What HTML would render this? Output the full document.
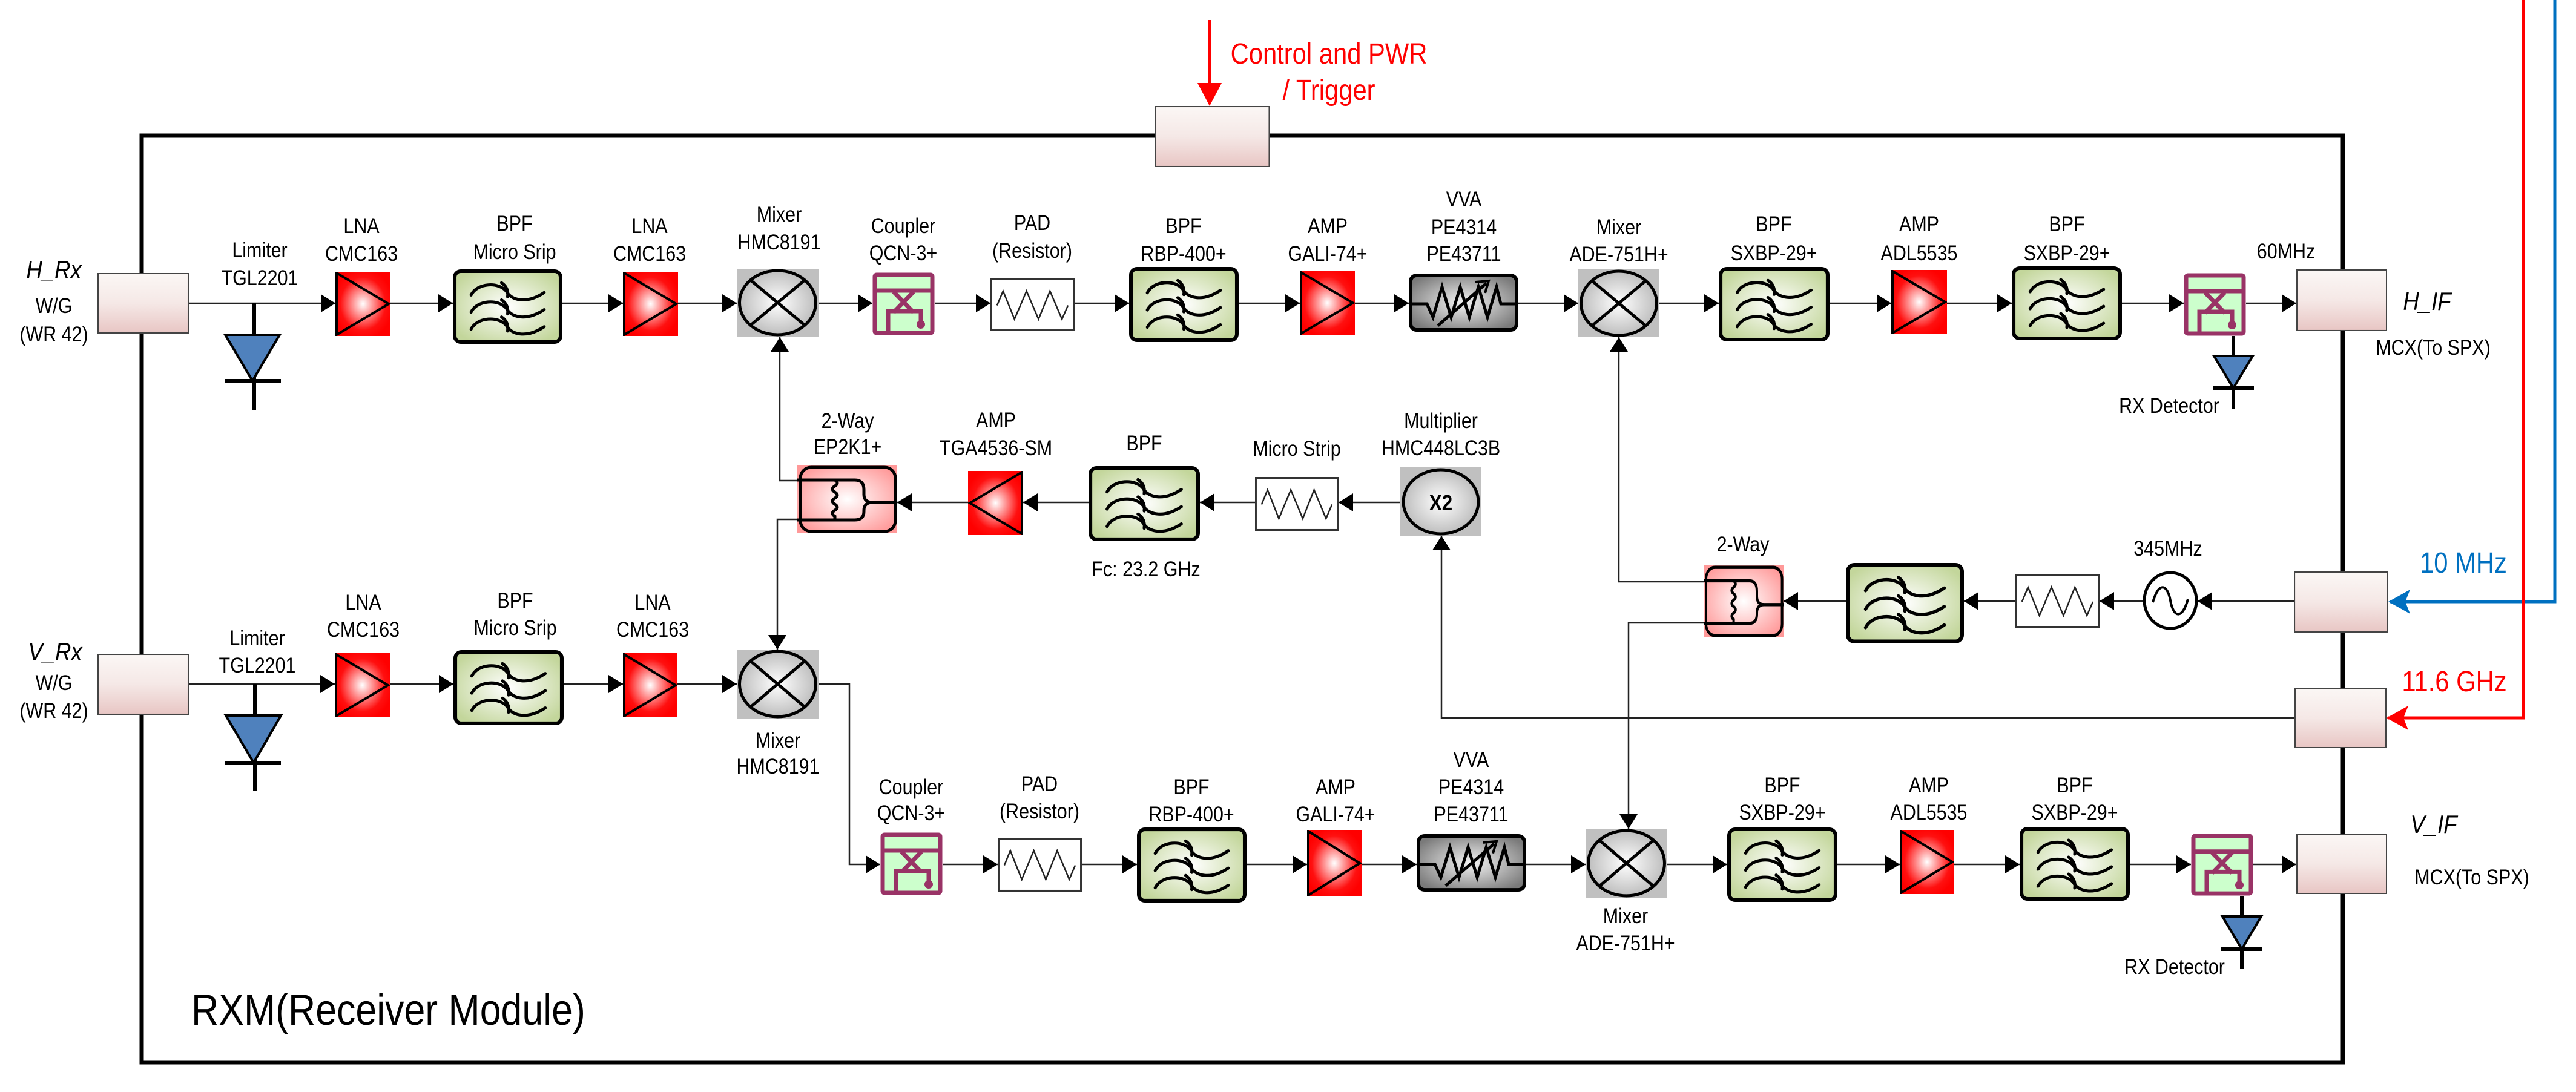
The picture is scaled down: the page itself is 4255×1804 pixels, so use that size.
<!DOCTYPE html>
<html><head><meta charset="utf-8"><style>
html,body{margin:0;padding:0;background:#fff}
svg{display:block}
text{font-family:"Liberation Sans",Arial,sans-serif;font-size:35px;text-anchor:middle;fill:#000}
.it{font-style:italic;font-size:42px}
.sm{font-size:33px}
</style></head><body>
<svg width="4255" height="1804" viewBox="0 0 4255 1804" xmlns="http://www.w3.org/2000/svg">
<defs>
<radialGradient id="rg" cx="50%" cy="50%" r="55%"><stop offset="0" stop-color="#fff"/><stop offset="0.75" stop-color="#ff1010"/><stop offset="1" stop-color="#f00"/></radialGradient>
<radialGradient id="gg" cx="50%" cy="50%" r="60%"><stop offset="0" stop-color="#fff"/><stop offset="1" stop-color="#c3d69b"/></radialGradient>
<radialGradient id="greyg" cx="50%" cy="50%" r="55%"><stop offset="0" stop-color="#fff"/><stop offset="1" stop-color="#b8b8b8"/></radialGradient>
<radialGradient id="vvag" cx="50%" cy="50%" r="60%"><stop offset="0" stop-color="#f4f4f4"/><stop offset="1" stop-color="#7a7a7a"/></radialGradient>
<radialGradient id="pinkg" cx="50%" cy="50%" r="60%"><stop offset="0" stop-color="#fff"/><stop offset="1" stop-color="#f99"/></radialGradient>
<linearGradient id="portg" x1="0" y1="0" x2="0" y2="1"><stop offset="0" stop-color="#fbf7f5"/><stop offset="0.5" stop-color="#f5e8e6"/><stop offset="1" stop-color="#e8c6c4"/></linearGradient>
<marker id="ar" viewBox="0 0 24 30" refX="24" refY="15" markerWidth="24" markerHeight="30" orient="auto" markerUnits="userSpaceOnUse"><path d="M0,0 L24,15 L0,30 z" fill="#000"/></marker>
<marker id="arB" viewBox="0 0 36 40" refX="34" refY="20" markerWidth="36" markerHeight="40" orient="auto" markerUnits="userSpaceOnUse"><path d="M0,0 L36,20 L0,40 L8,20 z" fill="#0070c0"/></marker>
<marker id="arR" viewBox="0 0 36 40" refX="34" refY="20" markerWidth="36" markerHeight="40" orient="auto" markerUnits="userSpaceOnUse"><path d="M0,0 L36,20 L0,40 L8,20 z" fill="#f00"/></marker>

<symbol id="amp" viewBox="0 0 92 106" preserveAspectRatio="none"><rect x="0" y="0" width="92" height="106" fill="url(#rg)"/><polygon points="2,2 89,53 2,104" fill="none" stroke="#000" stroke-width="4" stroke-linejoin="miter"/></symbol>
<symbol id="ampL" viewBox="0 0 92 106" preserveAspectRatio="none"><rect x="0" y="0" width="92" height="106" fill="url(#rg)"/><polygon points="90,2 3,53 90,104" fill="none" stroke="#000" stroke-width="4"/></symbol>
<symbol id="bpf" viewBox="0 0 180 122" preserveAspectRatio="none"><rect x="3" y="3" width="174" height="116" rx="10" fill="url(#gg)" stroke="#000" stroke-width="6"/>
<g fill="none" stroke="#000" stroke-width="5" stroke-linecap="round"><path d="M30,42 C40,22 75,20 88,36 C95,50 120,58 150,38"/><path d="M80,22 Q92,30 90,45"/>
<path d="M30,70 C40,50 75,48 88,64 C95,78 120,86 150,66"/><path d="M80,50 Q92,58 90,73"/>
<path d="M30,98 C40,78 75,76 88,92 C95,106 120,114 150,94"/><path d="M80,78 Q92,86 90,101"/></g></symbol>
<symbol id="mix" viewBox="0 0 135 112" preserveAspectRatio="none"><rect width="135" height="112" fill="#c0c0c0"/><ellipse cx="67.5" cy="56" rx="63" ry="53" fill="url(#greyg)" stroke="#000" stroke-width="5"/><path d="M23,19 L112,93 M112,19 L23,93" stroke="#000" stroke-width="5"/></symbol>
<symbol id="cpl" viewBox="0 0 103 104" preserveAspectRatio="none"><rect x="4" y="4" width="95" height="96" rx="3" fill="#ccffcc" stroke="#993366" stroke-width="7"/><g stroke="#993366" stroke-width="7" fill="none"><path d="M4,30 H99 M35,32 L68,66 M68,32 L35,66 M26,100 V64 H80 V84"/></g><circle cx="80" cy="86" r="7" fill="#993366"/></symbol>
<symbol id="pad" viewBox="0 0 140 88" preserveAspectRatio="none"><rect x="1.5" y="1.5" width="137" height="85" fill="#fff" stroke="#333" stroke-width="3"/><polyline points="11,45 21,21 40,68 60,21 80,68 99,21 119,68 129,45" fill="none" stroke="#222" stroke-width="2.5"/></symbol>
<symbol id="vva" viewBox="0 0 181 96" preserveAspectRatio="none"><rect x="3" y="3" width="175" height="90" rx="10" fill="url(#vvag)" stroke="#000" stroke-width="6"/><polyline points="4,50 30,50 40,72 55,22 70,72 85,22 100,72 115,22 130,72 145,22 152,50 177,50" fill="none" stroke="#000" stroke-width="5"/><path d="M48,86 L128,16" stroke="#000" stroke-width="5"/><path d="M110,14 L132,12 L126,32" fill="none" stroke="#000" stroke-width="4"/></symbol>
<symbol id="spl" viewBox="0 0 165 112" preserveAspectRatio="none"><rect width="165" height="112" fill="url(#pinkg)"/><rect x="5" y="3" width="157" height="106" rx="18" fill="none" stroke="#000" stroke-width="5"/><g fill="none" stroke="#000" stroke-width="5"><path d="M0,24 H95 Q110,24 110,40 V48 Q110,61 125,61 H165"/><path d="M0,90 H95 Q110,90 110,76 V74 Q110,61 125,61"/><path d="M62,24 q8,5 0,10 q-8,5 0,10 q8,5 0,10 q-8,5 0,10 q8,5 0,10 q-8,5 0,10 V90"/></g></symbol>
<symbol id="port" viewBox="0 0 150 100" preserveAspectRatio="none"><rect x="1" y="1" width="148" height="98" fill="url(#portg)" stroke="#444" stroke-width="2"/></symbol>
</defs>

<!-- main module box -->
<rect x="234" y="224" width="3636" height="1531" fill="none" stroke="#000" stroke-width="7"/>

<!-- external signals -->
<path d="M1998,33 V172" stroke="#f00" stroke-width="5"/>
<path d="M1978,137 L2018,137 L1998,175 z" fill="#f00"/>
<path d="M4220,0 V994 H3947" fill="none" stroke="#0070c0" stroke-width="5" marker-end="url(#arB)"/>
<path d="M4168,0 V1186 H3944" fill="none" stroke="#f00" stroke-width="5" marker-end="url(#arR)"/>

<!-- connectors -->
<g fill="none" stroke="#222" stroke-width="2.5" marker-end="url(#ar)">
<!-- H row -->
<path d="M312,501 H554"/><path d="M645,501 H748"/><path d="M929,501 H1029"/><path d="M1120,501 H1217"/>
<path d="M1352,501 H1441"/><path d="M1544,501 H1636"/><path d="M1775,501 H1865"/><path d="M2046,501 H2147"/>
<path d="M2238,501 H2327"/><path d="M2508,501 H2607"/><path d="M2741,501 H2839"/><path d="M3022,501 H3124"/>
<path d="M3216,501 H3323"/><path d="M3505,501 H3607"/><path d="M3710,501 H3793"/>
<!-- mid row -->
<path d="M2313,830 H2211"/><path d="M2073,830 H1982"/><path d="M1798,830 H1690"/><path d="M1599,830 H1482"/>
<path d="M1320,794 H1288 V557"/><path d="M1320,858 H1284 V1073"/>
<path d="M3789,993 H3630"/><path d="M3540,993 H3468"/><path d="M3329,993 H3244"/><path d="M3049,993 H2946"/>
<path d="M2816,961 H2674 V557"/><path d="M2816,1029 H2690 V1369"/>
<path d="M3790,1186 H2381 V885"/>
<!-- V row -->
<path d="M312,1130 H553"/><path d="M644,1130 H749"/><path d="M931,1130 H1029"/><path d="M1119,1130 H1217"/>
<path d="M1352,1130 H1403 V1428 H1454"/>
<path d="M1557,1428 H1648"/><path d="M1787,1428 H1878"/><path d="M2059,1428 H2159"/><path d="M2249,1428 H2340"/>
<path d="M2521,1428 H2619"/><path d="M2754,1428 H2853"/><path d="M3035,1428 H3138"/><path d="M3228,1428 H3336"/>
<path d="M3518,1428 H3619"/><path d="M3722,1428 H3793"/>
</g>

<!-- diodes -->
<g stroke="#000" stroke-width="6" fill="none">
<path d="M420,501 V677 M372,629 H464"/><path d="M421,1130 V1306 M372,1260 H464"/>
<path d="M3689,555 V676 M3655,641 H3723"/><path d="M3703,1480 V1601 M3669,1568 H3737"/>
</g>
<g fill="#4f81bd" stroke="#000" stroke-width="4">
<polygon points="372,553 462,553 417,629"/><polygon points="373,1182 464,1182 419,1260"/>
<polygon points="3657,588 3721,588 3689,641"/><polygon points="3671,1514 3735,1514 3703,1568"/>
</g>

<!-- ports -->
<use href="#port" x="161" y="451" width="151" height="100"/>
<use href="#port" x="161" y="1080" width="151" height="101"/>
<use href="#port" x="1907" y="175" width="191" height="101"/>
<use href="#port" x="3793" y="445" width="150" height="102"/>
<use href="#port" x="3789" y="944" width="156" height="101"/>
<use href="#port" x="3790" y="1136" width="152" height="100"/>
<use href="#port" x="3793" y="1377" width="150" height="100"/>

<!-- H row blocks -->
<use href="#amp" x="554" y="449" width="91" height="106"/>
<use href="#bpf" x="748" y="445" width="181" height="123"/>
<use href="#amp" x="1029" y="449" width="91" height="106"/>
<use href="#mix" x="1217" y="444" width="135" height="112"/>
<use href="#cpl" x="1441" y="450" width="103" height="104"/>
<use href="#pad" x="1636" y="460" width="139" height="87"/>
<use href="#bpf" x="1865" y="441" width="181" height="124"/>
<use href="#amp" x="2147" y="448" width="91" height="105"/>
<use href="#vva" x="2327" y="452" width="181" height="96"/>
<use href="#mix" x="2607" y="445" width="134" height="112"/>
<use href="#bpf" x="2839" y="441" width="183" height="123"/>
<use href="#amp" x="3124" y="446" width="92" height="106"/>
<use href="#bpf" x="3323" y="440" width="182" height="122"/>
<use href="#cpl" x="3607" y="451" width="103" height="104"/>

<!-- mid blocks -->
<use href="#spl" x="1317" y="769" width="165" height="112"/>
<use href="#ampL" x="1599" y="778" width="91" height="106"/>
<use href="#bpf" x="1798" y="770" width="184" height="124"/>
<use href="#pad" x="2073" y="788" width="138" height="89"/>
<rect x="2313" y="772" width="134" height="113" fill="#c0c0c0"/>
<ellipse cx="2380" cy="829" rx="62" ry="53" fill="url(#greyg)" stroke="#000" stroke-width="5"/>
<text x="2380" y="843" style="font-weight:bold;font-size:36px" transform="translate(2380 0) scale(.87 1) translate(-2380 0)">X2</text>
<use href="#spl" x="2814" y="934" width="132" height="119"/>
<use href="#bpf" x="3049" y="930" width="195" height="133"/>
<use href="#pad" x="3329" y="949" width="139" height="88"/>
<ellipse cx="3585" cy="992" rx="43" ry="46" fill="#fff" stroke="#000" stroke-width="5"/>
<path d="M3556,995 C3566,960 3580,965 3585,992 C3590,1020 3604,1025 3614,990" fill="none" stroke="#000" stroke-width="4"/>

<!-- V row blocks -->
<use href="#amp" x="553" y="1079" width="91" height="106"/>
<use href="#bpf" x="749" y="1074" width="182" height="124"/>
<use href="#amp" x="1029" y="1079" width="90" height="106"/>
<use href="#mix" x="1217" y="1073" width="135" height="114"/>
<use href="#cpl" x="1454" y="1375" width="103" height="104"/>
<use href="#pad" x="1648" y="1384" width="139" height="89"/>
<use href="#bpf" x="1878" y="1367" width="181" height="124"/>
<use href="#amp" x="2159" y="1371" width="90" height="110"/>
<use href="#vva" x="2340" y="1378" width="181" height="95"/>
<use href="#mix" x="2619" y="1369" width="135" height="114"/>
<use href="#bpf" x="2853" y="1367" width="182" height="123"/>
<use href="#amp" x="3138" y="1371" width="90" height="106"/>
<use href="#bpf" x="3336" y="1366" width="182" height="122"/>
<use href="#cpl" x="3619" y="1377" width="103" height="103"/>

<!-- labels -->
<g>
<text class="it" transform="translate(89 460) scale(.87 1)">H_Rx</text>
<text transform="translate(89 517) scale(.87 1)">W/G</text>
<text transform="translate(89 564) scale(.87 1)">(WR 42)</text>
<text transform="translate(429 425) scale(.87 1)">Limiter</text>
<text transform="translate(429 471) scale(.87 1)">TGL2201</text>
<text transform="translate(597 385) scale(.87 1)">LNA</text>
<text transform="translate(597 431) scale(.87 1)">CMC163</text>
<text transform="translate(850 381) scale(.87 1)">BPF</text>
<text transform="translate(850 428) scale(.87 1)">Micro Srip</text>
<text transform="translate(1073 385) scale(.87 1)">LNA</text>
<text transform="translate(1073 431) scale(.87 1)">CMC163</text>
<text transform="translate(1287 366) scale(.87 1)">Mixer</text>
<text transform="translate(1287 412) scale(.87 1)">HMC8191</text>
<text transform="translate(1492 385) scale(.87 1)">Coupler</text>
<text transform="translate(1492 430) scale(.87 1)">QCN-3+</text>
<text transform="translate(1705 380) scale(.87 1)">PAD</text>
<text transform="translate(1705 426) scale(.87 1)">(Resistor)</text>
<text transform="translate(1955 385) scale(.87 1)">BPF</text>
<text transform="translate(1955 431) scale(.87 1)">RBP-400+</text>
<text transform="translate(2193 385) scale(.87 1)">AMP</text>
<text transform="translate(2193 431) scale(.87 1)">GALI-74+</text>
<text transform="translate(2418 341) scale(.87 1)">VVA</text>
<text transform="translate(2418 387) scale(.87 1)">PE4314</text>
<text transform="translate(2418 431) scale(.87 1)">PE43711</text>
<text transform="translate(2674 387) scale(.87 1)">Mixer</text>
<text transform="translate(2674 432) scale(.87 1)">ADE-751H+</text>
<text transform="translate(2930 382) scale(.87 1)">BPF</text>
<text transform="translate(2930 430) scale(.87 1)">SXBP-29+</text>
<text transform="translate(3170 382) scale(.87 1)">AMP</text>
<text transform="translate(3170 430) scale(.87 1)">ADL5535</text>
<text transform="translate(3414 382) scale(.87 1)">BPF</text>
<text transform="translate(3414 430) scale(.87 1)">SXBP-29+</text>
<text transform="translate(3776 427) scale(.87 1)">60MHz</text>
<text class="it" transform="translate(4009 512) scale(.87 1)">H_IF</text>
<text transform="translate(4019 586) scale(.87 1)">MCX(To SPX)</text>
<text transform="translate(3583 682) scale(.87 1)">RX Detector</text>

<text transform="translate(1400 707) scale(.87 1)">2-Way</text>
<text transform="translate(1400 750) scale(.87 1)">EP2K1+</text>
<text transform="translate(1645 706) scale(.87 1)">AMP</text>
<text transform="translate(1645 752) scale(.87 1)">TGA4536-SM</text>
<text transform="translate(1890 744) scale(.87 1)">BPF</text>
<text transform="translate(2142 753) scale(.87 1)">Micro Strip</text>
<text transform="translate(2380 707) scale(.87 1)">Multiplier</text>
<text transform="translate(2380 752) scale(.87 1)">HMC448LC3B</text>
<text transform="translate(1893 952) scale(.87 1)">Fc: 23.2 GHz</text>
<text transform="translate(2879 911) scale(.87 1)">2-Way</text>
<text transform="translate(3581 918) scale(.87 1)">345MHz</text>
<text style="font-size:48px;fill:#0070c0" transform="translate(4069 946) scale(.87 1)">10 MHz</text>
<text style="font-size:48px;fill:#f00" transform="translate(4054 1142) scale(.87 1)">11.6 GHz</text>
<text style="font-size:48px;fill:#f00" transform="translate(2195 105) scale(.87 1)">Control and PWR</text>
<text style="font-size:48px;fill:#f00" transform="translate(2195 165) scale(.87 1)">/ Trigger</text>

<text class="it" transform="translate(91 1091) scale(.87 1)">V_Rx</text>
<text transform="translate(89 1140) scale(.87 1)">W/G</text>
<text transform="translate(89 1186) scale(.87 1)">(WR 42)</text>
<text transform="translate(425 1066) scale(.87 1)">Limiter</text>
<text transform="translate(425 1111) scale(.87 1)">TGL2201</text>
<text transform="translate(600 1007) scale(.87 1)">LNA</text>
<text transform="translate(600 1052) scale(.87 1)">CMC163</text>
<text transform="translate(851 1004) scale(.87 1)">BPF</text>
<text transform="translate(851 1049) scale(.87 1)">Micro Srip</text>
<text transform="translate(1078 1007) scale(.87 1)">LNA</text>
<text transform="translate(1078 1052) scale(.87 1)">CMC163</text>
<text transform="translate(1285 1235) scale(.87 1)">Mixer</text>
<text transform="translate(1285 1278) scale(.87 1)">HMC8191</text>
<text transform="translate(1505 1312) scale(.87 1)">Coupler</text>
<text transform="translate(1505 1355) scale(.87 1)">QCN-3+</text>
<text transform="translate(1717 1307) scale(.87 1)">PAD</text>
<text transform="translate(1717 1352) scale(.87 1)">(Resistor)</text>
<text transform="translate(1968 1312) scale(.87 1)">BPF</text>
<text transform="translate(1968 1357) scale(.87 1)">RBP-400+</text>
<text transform="translate(2206 1312) scale(.87 1)">AMP</text>
<text transform="translate(2206 1357) scale(.87 1)">GALI-74+</text>
<text transform="translate(2430 1267) scale(.87 1)">VVA</text>
<text transform="translate(2430 1312) scale(.87 1)">PE4314</text>
<text transform="translate(2430 1357) scale(.87 1)">PE43711</text>
<text transform="translate(2685 1525) scale(.87 1)">Mixer</text>
<text transform="translate(2685 1570) scale(.87 1)">ADE-751H+</text>
<text transform="translate(2944 1309) scale(.87 1)">BPF</text>
<text transform="translate(2944 1354) scale(.87 1)">SXBP-29+</text>
<text transform="translate(3186 1309) scale(.87 1)">AMP</text>
<text transform="translate(3186 1354) scale(.87 1)">ADL5535</text>
<text transform="translate(3427 1309) scale(.87 1)">BPF</text>
<text transform="translate(3427 1354) scale(.87 1)">SXBP-29+</text>
<text class="it" transform="translate(4020 1376) scale(.87 1)">V_IF</text>
<text transform="translate(4083 1461) scale(.87 1)">MCX(To SPX)</text>
<text transform="translate(3592 1609) scale(.87 1)">RX Detector</text>
<text style="font-size:72px;text-anchor:start" transform="translate(316 1693) scale(.87 1)">RXM(Receiver Module)</text>
</g>
</svg>
</body></html>
